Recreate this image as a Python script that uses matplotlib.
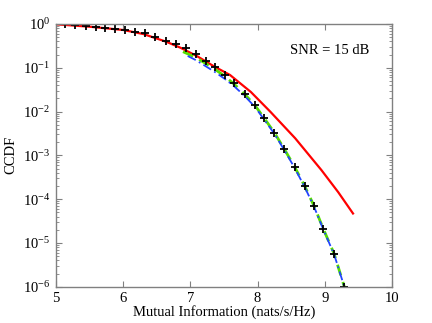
import matplotlib
matplotlib.use('Agg')
import matplotlib.pyplot as plt
from matplotlib.ticker import LogLocator, NullFormatter

# simulated points (black +)
sim_x = [5.14, 5.29, 5.44, 5.59, 5.73, 5.88, 6.03, 6.18, 6.33, 6.48,
         6.63, 6.78, 6.93, 7.08, 7.23, 7.36, 7.51, 7.65, 7.81, 7.96,
         8.10, 8.25, 8.40, 8.55, 8.70, 8.84, 8.98, 9.14, 9.29]
sim_y = [0.98, 0.95, 0.915, 0.867, 0.823, 0.769, 0.73, 0.667, 0.614, 0.513,
         0.416, 0.349, 0.279, 0.206, 0.145, 0.106, 0.0684, 0.0442, 0.0252, 0.0141,
         7.0e-3, 3.3e-3, 1.37e-3, 5.5e-4, 2.0e-4, 7.0e-5, 2.05e-5, 5.6e-6, 1.0e-6]

# red curve
red_x = [5.0, 5.5, 6.0, 6.3, 6.64, 6.85, 7.1, 7.35, 7.59, 7.9, 8.19, 8.56, 8.95, 9.2, 9.42]
red_y = [0.985, 0.867, 0.73, 0.59, 0.394, 0.288, 0.184, 0.108, 0.0684, 0.028, 0.0099,
         2.45e-3, 4.6e-4, 1.44e-4, 4.7e-5]

# green dashed curve
green_x = [6.89, 7.08, 7.23, 7.36, 7.51, 7.65, 7.81, 7.96, 8.10, 8.25, 8.40, 8.55,
           8.70, 8.84, 8.98, 9.14, 9.29]
green_y = [0.233, 0.172, 0.125, 0.094, 0.064, 0.0425, 0.0247, 0.0139, 7.0e-3, 3.3e-3,
           1.37e-3, 5.5e-4, 2.0e-4, 7.0e-5, 2.05e-5, 5.6e-6, 1.0e-6]

# blue dash-dot curve
blue_x = [6.96, 7.08, 7.23, 7.36, 7.51, 7.65, 7.81, 7.96, 8.10, 8.25, 8.40, 8.55,
          8.70, 8.84, 8.98, 9.14, 9.29]
blue_y = [0.186, 0.150, 0.108, 0.081, 0.056, 0.038, 0.0225, 0.0128, 6.5e-3, 3.1e-3,
          1.3e-3, 5.2e-4, 1.9e-4, 6.7e-5, 2.0e-5, 5.4e-6, 1.0e-6]

plt.rcParams['font.family'] = ['Liberation Serif', 'DejaVu Serif']
plt.rcParams['mathtext.fontset'] = 'stix'

fig = plt.figure(figsize=(4.32, 3.23), dpi=100)
ax = fig.add_axes([0.1296, 0.1124, 0.7778, 0.8133])

ax.semilogy(red_x, red_y, color='red', lw=1.6)
ax.semilogy(green_x, green_y, color='#55dd00', lw=2.0, ls=(0, (4, 2.5)))
ax.semilogy(blue_x, blue_y, color='#2244ff', lw=1.3, ls=(0, (5, 2, 1, 2)))
ax.semilogy(sim_x, sim_y, 'k+', ms=6, mew=1.3)

ax.set_xlim(5, 10)
ax.set_ylim(1e-6, 1)
ax.set_xticks([5, 6, 7, 8, 9, 10])
ax.yaxis.set_major_locator(LogLocator(base=10, numticks=10))
ax.yaxis.set_minor_locator(LogLocator(base=10, subs=range(2, 10), numticks=20))
ax.yaxis.set_minor_formatter(NullFormatter())

for s in ax.spines.values():
    s.set_color('#808080')
    s.set_linewidth(1.0)
ax.tick_params(which='both', direction='in', top=True, right=True, color='#808080',
               labelsize=10.5, labelcolor='black')
ax.tick_params(which='major', length=4, pad=4)
ax.tick_params(which='minor', length=2)

ax.set_xlabel('Mutual Information (nats/s/Hz)', fontsize=10.5, labelpad=0)
ax.set_ylabel('CCDF', fontsize=10.5, labelpad=4)
ax.text(0.696, 0.901, 'SNR = 15 dB', transform=ax.transAxes, fontsize=10.5,
        ha='left', va='center')

fig.savefig('out.png', dpi=100)
